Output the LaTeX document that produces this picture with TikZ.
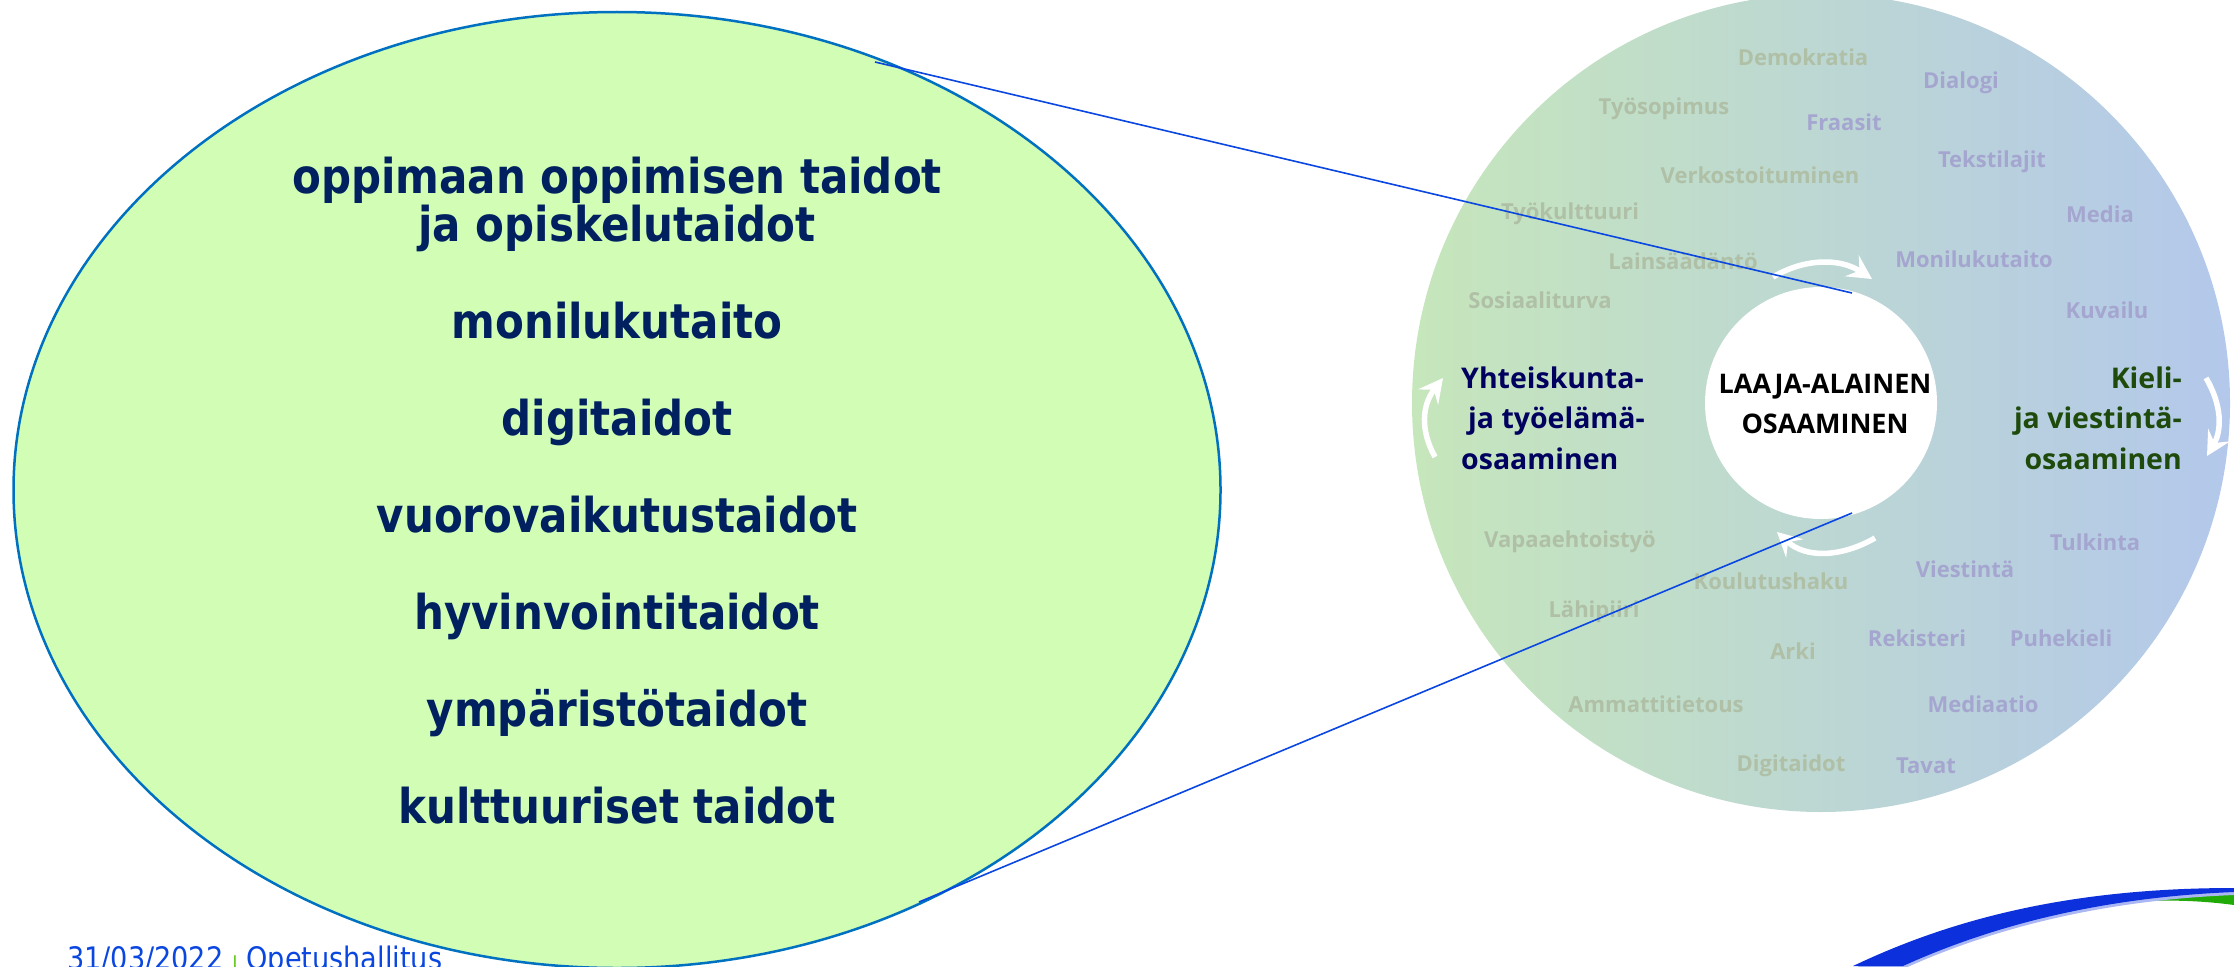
\documentclass[tikz,border=0pt]{standalone}
\usepackage{fontspec}
\setmainfont{Open Sans}
\newfontfamily\verdanalike[FakeStretch=0.875]{DejaVu Sans}
\usepackage{xcolor}
\usetikzlibrary{shapes.geometric,arrows.meta,positioning}
\definecolor{ellipsefill}{HTML}{D2FDB5}
\definecolor{ellipseline}{HTML}{0070C0}
\definecolor{navytext}{HTML}{00205F}
\definecolor{societytext}{HTML}{00005F}
\definecolor{languagetext}{HTML}{1E4A0C}
\definecolor{ringgreen}{HTML}{C6E6BB}
\definecolor{ringblue}{HTML}{B3C8EB}
\definecolor{wordgreen}{HTML}{AFC0A6}
\definecolor{wordviolet}{HTML}{A5A6D0}
\definecolor{zoomline}{HTML}{0A46E0}
\definecolor{barfoot}{HTML}{66CC22}
\definecolor{swooshblue}{HTML}{0B30DC}
\definecolor{swooshgreen}{HTML}{22AA08}
\tikzset{
	skill/.style = {font=\verdanalike\bfseries\fontsize{48}{48}\selectfont, text=navytext, align=center, inner sep=0pt, anchor=base},
	wordl/.style = {font=\bfseries\fontsize{22}{24}\selectfont, text=wordgreen, inner sep=0pt},
	wordr/.style = {font=\bfseries\fontsize{22}{24}\selectfont, text=wordviolet, inner sep=0pt},
	head/.style = {font=\bfseries\fontsize{28.5}{40.5}\selectfont, inner sep=0pt},
	turn/.style = {draw=white, line width=5.5pt, -{Stealth[length=24pt,width=25pt,inset=9pt]}},
	zoomray/.style = {draw=zoomline, line width=1.6pt}
}

\begin{document}
\begin{tikzpicture}[x=1pt,y=-1pt]
    \useasboundingbox (0,0) rectangle (2234,966);
    \clip (0,0) rectangle (2234,966);

    \node[ellipse, draw=ellipseline, line width=2.5pt, fill=ellipsefill, minimum width=1207pt, minimum height=956pt, inner sep=0pt] (bigellipse) at (617,490) {};
    \node[circle, left color=ringgreen, right color=ringblue, minimum size=818pt, inner sep=0pt] (ring) at (1821,403) {};
    \node[circle, fill=white, minimum size=232pt, inner sep=0pt] (core) at (1821,403) {};

    \node[skill] (s1) at (617,241) {oppimaan oppimisen taidot\\ja opiskelutaidot};
    \node[skill] (s2) at (617,338) {monilukutaito};
    \node[skill] (s3) at (617,435) {digitaidot};
    \node[skill] (s4) at (617,532) {vuorovaikutustaidot};
    \node[skill] (s5) at (617,629) {hyvinvointitaidot};
    \node[skill] (s6) at (617,726) {ympäristötaidot};
    \node[skill] (s7) at (617,823) {kulttuuriset taidot};

    \node[head, font=\bfseries\fontsize{27}{40.5}\selectfont, text=black, align=center] (center) at (1825,404) {LAAJA-ALAINEN\\OSAAMINEN};
    \node[head, text=societytext, align=left, anchor=west] (society) at (1461,418) {Yhteiskunta-\\\hspace{7pt}ja työelämä-\\osaaminen};
    \node[head, text=languagetext, align=right, anchor=east] (language) at (2182,418) {Kieli-\\ja viestintä-\\osaaminen};

    \node[wordl] (w1) at (1803,57) {Demokratia};
    \node[wordl] (w2) at (1664,109) {Työsopimus};
    \node[wordl] (w3) at (1760,175) {Verkostoituminen};
    \node[wordl] (w4) at (1570,214) {Työkulttuuri};
    \node[wordl] (w5) at (1683,261) {Lainsäädäntö};
    \node[wordl] (w6) at (1540,300) {Sosiaaliturva};
    \node[wordl] (w7) at (1570,542) {Vapaaehtoistyö};
    \node[wordl] (w8) at (1771,581) {Koulutushaku};
    \node[wordl] (w9) at (1594,612) {Lähipiiri};
    \node[wordl] (w10) at (1793,651) {Arki};
    \node[wordl] (w11) at (1656,704) {Ammattitietous};
    \node[wordl] (w12) at (1791,766) {Digitaidot};

    \node[wordr] (v1) at (1961,83) {Dialogi};
    \node[wordr] (v2) at (1844,122) {Fraasit};
    \node[wordr] (v3) at (1992,162) {Tekstilajit};
    \node[wordr] (v4) at (2100,214) {Media};
    \node[wordr] (v5) at (1974,259) {Monilukutaito};
    \node[wordr] (v6) at (2107,310) {Kuvailu};
    \node[wordr] (v7) at (2095,542) {Tulkinta};
    \node[wordr] (v8) at (1965,569) {Viestintä};
    \node[wordr] (v9) at (1917,638) {Rekisteri};
    \node[wordr] (v10) at (2061,638) {Puhekieli};
    \node[wordr] (v11) at (1983,704) {Mediaatio};
    \node[wordr] (v12) at (1926,766) {Tavat};

    % kierto
    \coordinate (a1) at (1773,277);
    \coordinate (a2) at (1872,279);
    \coordinate (b1) at (2206,378);
    \coordinate (b2) at (2207,456);
    \coordinate (c1) at (1875,538);
    \coordinate (c2) at (1777,532);
    \coordinate (d1) at (1435,457);
    \coordinate (d2) at (1443,378);
    \draw[turn] (a1) .. controls (1805,258) and (1840,258) .. (a2);
    \draw[turn] (b1) .. controls (2222,405) and (2222,430) .. (b2);
    \draw[turn] (c1) .. controls (1840,558) and (1805,558) .. (c2);
    \draw[turn] (d1) .. controls (1420,430) and (1422,405) .. (d2);

    \coordinate (ray1) at (875,62);
    \coordinate (ray2) at (919,902);
    \coordinate (coretop) at (1852,293);
    \coordinate (corebot) at (1852,513);
    \draw[zoomray] (ray1) -- (coretop);
    \draw[zoomray] (ray2) -- (corebot);

    \node[font=\verdanalike\fontsize{31}{31}\selectfont, text=zoomline, anchor=base west, inner sep=0pt] (footer) at (67,969) {31/03/2022 {\bfseries\fontsize{18}{18}\selectfont\textcolor{barfoot}{|}} Opetushallitus};

    % logo
    \fill[swooshgreen] (2100,906) .. controls (2150,894) and (2190,890) .. (2234,890)
        -- (2234,905) .. controls (2190,899) and (2140,899) .. (2100,906) -- cycle;
    \fill[swooshblue!35, yshift=-3pt] (1853,966) .. controls (1960,915) and (2080,888) .. (2234,888)
        -- (2234,892) .. controls (2110,897) and (2000,922) .. (1903,966) -- cycle;
    \fill[swooshblue] (1853,966) .. controls (1960,915) and (2080,888) .. (2234,888)
        -- (2234,892) .. controls (2110,897) and (2000,922) .. (1903,966) -- cycle;
\end{tikzpicture}
\end{document}
